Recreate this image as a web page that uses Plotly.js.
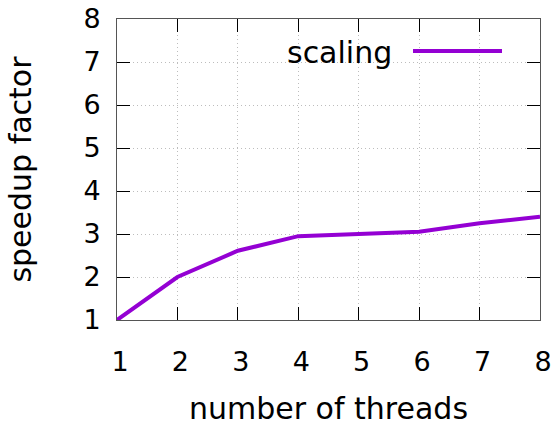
<!DOCTYPE html>
<html>
<head>
<meta charset="utf-8">
<script src="https://cdn.plot.ly/plotly-3.0.1.min.js"></script>
<style>html,body{margin:0;padding:0;background:#fff;}#chart{width:554px;height:426px;}</style>
</head>
<body>
<div id="chart"></div>
<script>
const threads = [1, 2, 3, 4, 5, 6, 7, 8];
const speedup = [1.0, 2.0, 2.61, 2.95, 3.0, 3.05, 3.25, 3.4];
const seriesName = "scaling";
const xTitle = "number of threads";
const yTitle = "speedup factor";

const tickFont = {family: "DejaVu Sans, sans-serif", size: 27, color: "#000"};
const titleFont = {family: "DejaVu Sans, sans-serif", size: 30, color: "#000"};
const L = 117, R = 14, T = 19, B = 106, W = 554, H = 426;
const pw = W - L - R, ph = H - T - B;
const px = v => (v - L) / pw;
const py = v => (H - B - v) / ph;

const trace = {
  x: threads, y: speedup, type: "scatter", mode: "lines",
  name: seriesName, showlegend: false,
  line: {color: "#9400D3", width: 4}
};

const axisCommon = {
  showline: true, linecolor: "#555", linewidth: 1, mirror: "ticks",
  ticks: "inside", ticklen: 13, tickcolor: "#000", tickwidth: 1,
  showgrid: true, gridcolor: "#bdbdbd", gridwidth: 1, griddash: "1px,3px",
  zeroline: false, tickfont: tickFont, dtick: 1, fixedrange: true
};

const layout = {
  width: W, height: H,
  margin: {l: L, r: R, t: T, b: B},
  paper_bgcolor: "#fff", plot_bgcolor: "#fff",
  font: tickFont,
  xaxis: Object.assign({}, axisCommon, {
    range: [1, 8], tick0: 1, ticklabelstandoff: 18, ticklabelshift: 3,
    title: {text: xTitle, font: titleFont, standoff: 22}
  }),
  yaxis: Object.assign({}, axisCommon, {
    range: [1, 8], tick0: 1, ticklabelstandoff: 10,
    title: {text: yTitle, font: titleFont, standoff: 42}
  }),
  shapes: [
    {type: "rect", xref: "paper", yref: "paper", layer: "between",
     x0: px(263), x1: px(527), y0: py(70), y1: py(19.5),
     fillcolor: "#fff", line: {width: 0}},
    {type: "line", xref: "paper", yref: "paper", layer: "above",
     x0: px(413), x1: px(502), y0: py(51), y1: py(51),
     line: {color: "#9400D3", width: 4}}
  ],
  annotations: [
    {xref: "paper", yref: "paper", x: px(394), y: py(52),
     xanchor: "right", yanchor: "middle", showarrow: false,
     text: seriesName, font: titleFont}
  ]
};

Plotly.newPlot("chart", [trace], layout, {displayModeBar: false, staticPlot: true});
</script>
</body>
</html>
